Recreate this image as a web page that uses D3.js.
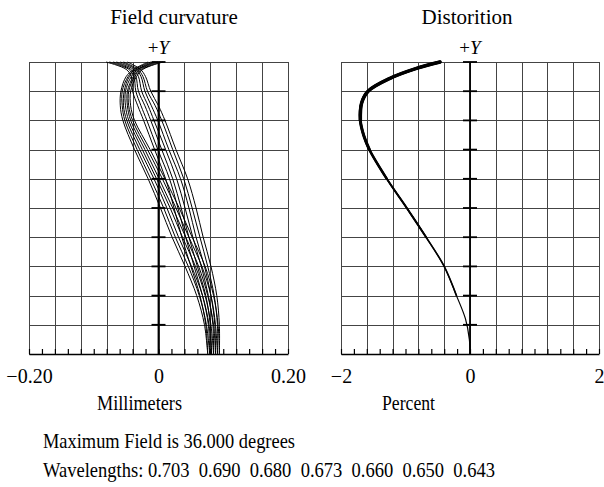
<!DOCTYPE html>
<html>
<head>
<meta charset="utf-8">
<script src="https://cdn.jsdelivr.net/npm/d3@7"></script>
<style>
  body { margin: 0; background: #fff; }
  svg { display: block; font-family: "Liberation Serif", "Times New Roman", serif; }
  .grid line { stroke: #444; stroke-width: 1; shape-rendering: crispEdges; }
  .grid path { display: none; }
</style>
</head>
<body>
<div id="chart"></div>
<script>
// relative field heights (0 = axis, 1 = +Y max field)
var fcField = [0, 0.1, 0.2, 0.3, 0.4, 0.5, 0.6, 0.7, 0.8, 0.85, 0.9, 0.95, 0.975, 1.0];

// field curvature, millimeters, one row per wavelength (bulging group)
var fcS = [
  [0.076, 0.071, 0.059, 0.041, 0.021, 0.003, -0.016, -0.037, -0.055, -0.059, -0.058, -0.050, -0.038, -0.016],
  [0.079, 0.074, 0.063, 0.046, 0.026, 0.008, -0.012, -0.033, -0.052, -0.056, -0.056, -0.047, -0.036, -0.012],
  [0.082, 0.078, 0.068, 0.051, 0.031, 0.013, -0.007, -0.029, -0.049, -0.054, -0.053, -0.045, -0.033, -0.008],
  [0.085, 0.081, 0.072, 0.057, 0.037, 0.018, -0.003, -0.025, -0.046, -0.051, -0.051, -0.042, -0.031, -0.005],
  [0.088, 0.085, 0.076, 0.062, 0.042, 0.022, 0.001, -0.021, -0.043, -0.048, -0.048, -0.039, -0.029, -0.001],
  [0.091, 0.088, 0.081, 0.067, 0.047, 0.027, 0.006, -0.017, -0.040, -0.046, -0.046, -0.037, -0.026, 0.003],
  [0.094, 0.092, 0.085, 0.072, 0.052, 0.032, 0.010, -0.013, -0.037, -0.043, -0.043, -0.034, -0.024, 0.007]
];

// field curvature, millimeters, one row per wavelength (straighter group)
var fcT = [
  [0.076, 0.073, 0.064, 0.050, 0.036, 0.024, 0.011, -0.006, -0.023, -0.032, -0.040, -0.042, -0.050, -0.081],
  [0.079, 0.077, 0.068, 0.055, 0.042, 0.030, 0.017, -0.001, -0.018, -0.027, -0.035, -0.038, -0.046, -0.076],
  [0.082, 0.080, 0.073, 0.060, 0.047, 0.035, 0.022, 0.005, -0.012, -0.021, -0.031, -0.035, -0.043, -0.070],
  [0.085, 0.084, 0.077, 0.066, 0.053, 0.041, 0.028, 0.011, -0.007, -0.016, -0.026, -0.031, -0.039, -0.065],
  [0.088, 0.087, 0.081, 0.071, 0.058, 0.047, 0.034, 0.016, -0.001, -0.011, -0.021, -0.027, -0.035, -0.059],
  [0.091, 0.091, 0.086, 0.076, 0.064, 0.052, 0.039, 0.022, 0.005, -0.005, -0.017, -0.024, -0.032, -0.054],
  [0.094, 0.094, 0.090, 0.081, 0.069, 0.058, 0.045, 0.027, 0.010, 0.000, -0.012, -0.020, -0.028, -0.048]
];

// distortion, percent
var distField = [0, 0.05, 0.12, 0.2, 0.3, 0.4, 0.5, 0.6, 0.7, 0.75, 0.8, 0.86, 0.9, 0.944, 0.978, 1.0];
var distValue = [0, -0.01, -0.07, -0.21, -0.40, -0.68, -0.98, -1.29, -1.56, -1.65, -1.70, -1.68, -1.58, -1.24, -0.83, -0.465];

var fcTickValues = [-0.2, 0, 0.2];
var fcTickLabels = ["\u22120.20", "0", "0.20"];
var distTickValues = [-2, 0, 2];
var distTickLabels = ["\u22122", "0", "2"];
var wavelengths = ["0.703", "0.690", "0.680", "0.673", "0.660", "0.650", "0.643"];
var maxField = "36.000";

var W = 604, H = 487;
var plotTop = 62, plotBottom = 354;

var svg = d3.select("#chart").append("svg")
  .attr("width", W)
  .attr("height", H);

var y = d3.scaleLinear().domain([0, 1]).range([plotBottom, plotTop]);
var xFC = d3.scaleLinear().domain([-0.2, 0.2]).range([29, 288]);
var xD = d3.scaleLinear().domain([-2, 2]).range([341, 599]);

var fieldGrid = d3.range(0, 11).map(function(i) { return i / 10; });

// draws grid, center axis, bottom ticks and tick labels of one panel
function drawPanel(x, tickValues, tickLabels) {
  var d0 = x.domain()[0], d1 = x.domain()[1];
  var gridVals = d3.range(0, 11).map(function(i) { return d0 + (d1 - d0) * i / 10; });
  var minorVals = d3.range(0, 21).map(function(i) { return d0 + (d1 - d0) * i / 20; });
  var w = x.range()[1] - x.range()[0];

  svg.append("g")
    .attr("class", "grid")
    .attr("transform", "translate(0," + plotBottom + ")")
    .call(d3.axisBottom(x).tickValues(gridVals).tickSize(-(plotBottom - plotTop)).tickFormat(""));

  svg.append("g")
    .attr("class", "grid")
    .attr("transform", "translate(" + x.range()[0] + ",0)")
    .call(d3.axisLeft(y).tickValues(fieldGrid).tickSize(-w).tickFormat(""));

  // minor ticks pointing up from the bottom axis
  var minor = svg.append("g")
    .attr("transform", "translate(0," + plotBottom + ")")
    .call(d3.axisBottom(x).tickValues(minorVals).tickSize(-5).tickSizeOuter(0).tickFormat(""));
  minor.selectAll("line").attr("stroke", "#000").attr("stroke-width", 1.2);
  minor.select(".domain").attr("stroke", "#000").attr("stroke-width", 1.6);

  // center (x = 0) axis with ticks on both sides
  svg.append("line")
    .attr("x1", x(0)).attr("x2", x(0))
    .attr("y1", plotTop).attr("y2", plotBottom)
    .attr("stroke", "#000").attr("stroke-width", 1.8);
  svg.append("g").selectAll("line")
    .data(fieldGrid.slice(1))
    .enter()
    .append("line")
      .attr("x1", x(0) - 7).attr("x2", x(0) + 7)
      .attr("y1", function(d) { return y(d); })
      .attr("y2", function(d) { return y(d); })
      .attr("stroke", "#000").attr("stroke-width", 1.8);

  // tick labels
  var lab = svg.append("g")
    .attr("transform", "translate(0," + plotBottom + ")")
    .call(d3.axisBottom(x).tickValues(tickValues).tickSize(0)
      .tickFormat(function(d, i) { return tickLabels[i]; }));
  lab.select(".domain").remove();
  lab.selectAll("text")
    .attr("y", 29).attr("dy", 0)
    .attr("fill", "#000")
    .style("font-size", "20px")
    .style("font-family", "'Liberation Serif', serif");

  // +Y marker
  var py = svg.append("text")
    .attr("x", x(0)).attr("y", 54)
    .attr("text-anchor", "middle")
    .style("font-size", "19px");
  py.append("tspan").text("+");
  py.append("tspan").style("font-style", "italic").text("Y");
}

drawPanel(xFC, fcTickValues, fcTickLabels);
drawPanel(xD, distTickValues, distTickLabels);

// field curvature curves
var fcLine = d3.line()
  .x(function(d) { return xFC(d[0]); })
  .y(function(d) { return y(d[1]); })
  .curve(d3.curveCatmullRom.alpha(0.5));

var fcCurves = fcS.concat(fcT).map(function(row) {
  return row.map(function(v, i) { return [v, fcField[i]]; });
});

svg.append("g").selectAll("path")
  .data(fcCurves)
  .enter()
  .append("path")
    .attr("d", fcLine)
    .attr("fill", "none")
    .attr("stroke", "#000")
    .attr("stroke-width", 1);

// distortion curve: the overlapping wavelengths make it heavier near the top
var dLine = d3.line()
  .x(function(d) { return xD(d[0]); })
  .y(function(d) { return y(d[1]); })
  .curve(d3.curveCatmullRom.alpha(0.5));

var distPts = distValue.map(function(v, i) { return [v, distField[i]]; });
var layers = [
  {from: 0, width: 1.2},
  {from: 0.2, width: 1.6},
  {from: 0.4, width: 2.0},
  {from: 0.55, width: 2.5},
  {from: 0.7, width: 3.0},
  {from: 0.8, width: 3.5}
];
svg.append("g").selectAll("path")
  .data(layers)
  .enter()
  .append("path")
    .attr("d", function(l) { return dLine(distPts.filter(function(p) { return p[1] >= l.from; })); })
    .attr("fill", "none")
    .attr("stroke", "#000")
    .attr("stroke-width", function(l) { return l.width; })
    .attr("stroke-linecap", "round");

// titles and labels (text squeezed to the widths measured on the original)
function label(x, yb, size, str, len) {
  var t = svg.append("text")
    .attr("x", x).attr("y", yb)
    .style("font-size", size + "px")
    .style("white-space", "pre")
    .text(str);
  if (len) t.attr("textLength", len).attr("lengthAdjust", "spacingAndGlyphs");
  return t;
}

label(174, 24, 21, "Field curvature").attr("text-anchor", "middle");
label(467, 24, 21, "Distorition").attr("text-anchor", "middle");
label(97, 410, 21, "Millimeters", 85);
label(382, 410, 21, "Percent", 53);
label(43, 448, 21, "Maximum Field is " + maxField + " degrees", 252);
label(43, 477, 21, "Wavelengths: " + wavelengths.join("  "), 452);
</script>
</body>
</html>
